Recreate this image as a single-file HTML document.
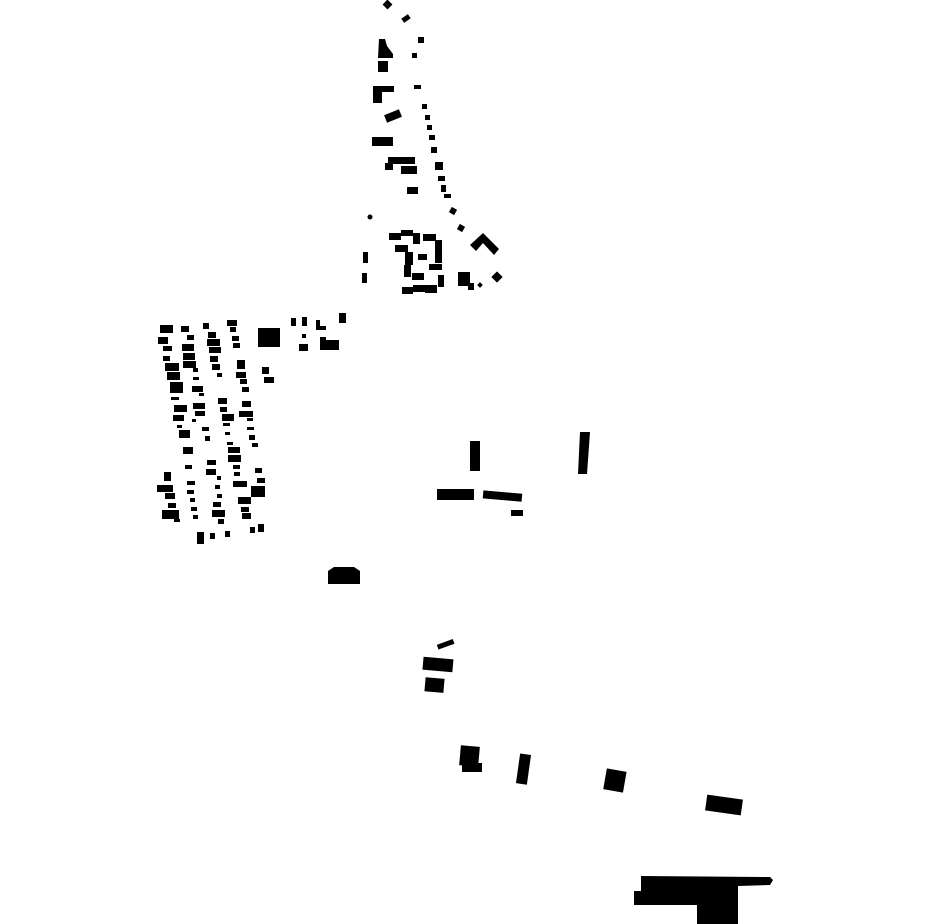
<!DOCTYPE html>
<html><head><style>html,body{margin:0;padding:0;background:#fff;}svg{display:block}</style></head>
<body>
<svg width="930" height="924" viewBox="0 0 930 924" xmlns="http://www.w3.org/2000/svg">
<rect width="930" height="924" fill="#fff"/>
<g fill="#000">
<rect x="384" y="1" width="7" height="7" transform="rotate(45 387.5 4.5)"/>
<rect x="402" y="16" width="8" height="5" transform="rotate(-35 406 18.5)"/>
<rect x="418" y="37" width="6" height="6"/>
<polygon points="379,39 385,39 387,46 390,50 393,54 393,58 378,58"/>
<rect x="412" y="53" width="5" height="5"/>
<rect x="378" y="61" width="10" height="11"/>
<rect x="414" y="85" width="7" height="4"/>
<rect x="373" y="86" width="21" height="6"/><rect x="373" y="86" width="9" height="17"/>
<rect x="422" y="104" width="5" height="5"/>
<rect x="385" y="112" width="16" height="8" transform="rotate(-22 393 116)"/>
<rect x="425" y="115" width="5" height="5"/>
<rect x="427" y="125" width="5" height="5"/>
<rect x="429" y="135" width="6" height="5"/>
<rect x="431" y="147" width="6" height="6"/>
<rect x="372" y="137" width="21" height="9"/>
<rect x="435" y="162" width="8" height="8"/>
<rect x="388" y="157" width="27" height="7"/><rect x="385" y="163" width="8" height="7"/>
<rect x="401" y="166" width="16" height="8"/>
<rect x="438" y="176" width="7" height="5"/>
<rect x="441" y="185" width="5" height="7"/>
<rect x="407" y="187" width="11" height="7"/>
<rect x="444" y="194" width="7" height="4"/>
<rect x="450" y="208" width="6" height="6" transform="rotate(30 453 211)"/>
<circle cx="370" cy="217" r="2.5"/>
<rect x="458" y="225" width="6" height="6" transform="rotate(30 461 228)"/>
<polygon points="470,245 483,233 499,249 494,255 483,243 476,251"/>
<rect x="389" y="233" width="12" height="7"/><rect x="401" y="230" width="12" height="6"/>
<rect x="413" y="233" width="7" height="11"/>
<rect x="423" y="234" width="13" height="7"/>
<rect x="435" y="240" width="7" height="23"/>
<rect x="395" y="245" width="13" height="7"/>
<rect x="405" y="252" width="8" height="13"/>
<rect x="418" y="254" width="9" height="6"/>
<rect x="363" y="252" width="5" height="11"/>
<rect x="404" y="265" width="7" height="12"/>
<rect x="429" y="264" width="13" height="6"/>
<rect x="438" y="275" width="6" height="12"/>
<rect x="412" y="273" width="12" height="7"/>
<rect x="362" y="273" width="5" height="10"/>
<rect x="458" y="272" width="12" height="14"/>
<rect x="468" y="283" width="6" height="7"/>
<rect x="478" y="283" width="4" height="4" transform="rotate(45 480 285)"/>
<rect x="493" y="273" width="8" height="8" transform="rotate(45 497 277)"/>
<rect x="402" y="287" width="11" height="7"/>
<rect x="413" y="285" width="12" height="7"/>
<rect x="425" y="285" width="12" height="8"/>
<rect x="160" y="325" width="13" height="8"/><rect x="181" y="326" width="8" height="6"/>
<rect x="203" y="323" width="6" height="6"/><rect x="227" y="320" width="10" height="6"/>
<rect x="230" y="327" width="6" height="5"/><rect x="158" y="337" width="10" height="7"/>
<rect x="187" y="335" width="7" height="5"/><rect x="208" y="332" width="8" height="6"/>
<rect x="232" y="336" width="7" height="5"/><rect x="163" y="346" width="9" height="5"/>
<rect x="182" y="344" width="12" height="7"/><rect x="207" y="339" width="13" height="7"/>
<rect x="209" y="347" width="12" height="6"/><rect x="233" y="343" width="7" height="5"/>
<rect x="163" y="356" width="7" height="5"/><rect x="183" y="353" width="12" height="7"/>
<rect x="210" y="356" width="8" height="6"/><rect x="165" y="363" width="14" height="8"/>
<rect x="183" y="361" width="13" height="7"/><rect x="193" y="368" width="5" height="4"/>
<rect x="212" y="364" width="8" height="6"/><rect x="237" y="360" width="8" height="9"/>
<rect x="167" y="372" width="13" height="8"/><rect x="193" y="377" width="6" height="3"/>
<rect x="217" y="373" width="5" height="4"/><rect x="236" y="372" width="10" height="6"/>
<rect x="170" y="382" width="13" height="11"/><rect x="192" y="386" width="11" height="6"/>
<rect x="240" y="379" width="7" height="5"/><rect x="242" y="387" width="7" height="5"/>
<rect x="199" y="393" width="5" height="3"/><rect x="171" y="397" width="8" height="3"/>
<rect x="218" y="398" width="9" height="6"/><rect x="242" y="401" width="9" height="6"/>
<rect x="174" y="405" width="13" height="7"/><rect x="193" y="403" width="12" height="6"/>
<rect x="220" y="407" width="7" height="5"/><rect x="195" y="411" width="10" height="5"/>
<rect x="173" y="415" width="11" height="6"/><rect x="222" y="414" width="12" height="7"/>
<rect x="239" y="411" width="14" height="6"/><rect x="192" y="419" width="4" height="3"/>
<rect x="223" y="423" width="7" height="3"/><rect x="247" y="418" width="6" height="3"/>
<rect x="177" y="425" width="5" height="3"/><rect x="202" y="427" width="7" height="4"/>
<rect x="247" y="427" width="7" height="3"/><rect x="179" y="430" width="11" height="8"/>
<rect x="205" y="436" width="5" height="5"/><rect x="225" y="432" width="5" height="3"/>
<rect x="249" y="435" width="6" height="5"/><rect x="227" y="442" width="6" height="3"/>
<rect x="252" y="443" width="6" height="4"/><rect x="183" y="447" width="10" height="7"/>
<rect x="228" y="447" width="12" height="6"/><rect x="228" y="455" width="13" height="7"/>
<rect x="207" y="460" width="9" height="5"/><rect x="185" y="465" width="7" height="4"/>
<rect x="233" y="465" width="7" height="4"/><rect x="206" y="469" width="10" height="6"/>
<rect x="255" y="468" width="7" height="5"/><rect x="164" y="472" width="7" height="9"/>
<rect x="217" y="476" width="4" height="4"/><rect x="234" y="472" width="6" height="4"/>
<rect x="157" y="485" width="16" height="7"/><rect x="187" y="481" width="8" height="4"/>
<rect x="257" y="478" width="8" height="5"/><rect x="233" y="481" width="14" height="6"/>
<rect x="215" y="485" width="5" height="4"/><rect x="165" y="493" width="10" height="6"/>
<rect x="187" y="490" width="7" height="4"/><rect x="251" y="486" width="14" height="11"/>
<rect x="217" y="494" width="5" height="4"/><rect x="238" y="497" width="13" height="7"/>
<rect x="168" y="503" width="8" height="5"/><rect x="190" y="498" width="5" height="4"/>
<rect x="213" y="502" width="8" height="5"/><rect x="162" y="510" width="17" height="9"/>
<rect x="191" y="507" width="6" height="4"/><rect x="241" y="507" width="8" height="5"/>
<rect x="212" y="510" width="13" height="7"/><rect x="242" y="513" width="9" height="6"/>
<rect x="174" y="519" width="6" height="3"/><rect x="193" y="515" width="5" height="4"/>
<rect x="218" y="519" width="6" height="5"/><rect x="197" y="532" width="7" height="12"/>
<rect x="210" y="533" width="5" height="6"/><rect x="225" y="531" width="5" height="6"/>
<rect x="250" y="527" width="5" height="6"/><rect x="258" y="524" width="6" height="8"/>
<rect x="291" y="318" width="5" height="8"/><rect x="302" y="317" width="5" height="9"/>
<rect x="316" y="320" width="4" height="10"/><rect x="316" y="326" width="10" height="4"/>
<rect x="339" y="313" width="7" height="10"/>
<rect x="258" y="328" width="22" height="19"/>
<rect x="302" y="334" width="4" height="4"/><rect x="299" y="344" width="9" height="7"/>
<rect x="320" y="340" width="19" height="10"/><rect x="320" y="337" width="6" height="6"/>
<rect x="262" y="367" width="7" height="7"/><rect x="264" y="377" width="10" height="6"/>
<rect x="470" y="441" width="10" height="30"/>
<polygon points="580,432 590,432 587,474 578,474"/>
<rect x="437" y="489" width="37" height="11"/>
<rect x="483" y="492" width="39" height="8" transform="rotate(5 502 496)"/>
<rect x="511" y="510" width="12" height="6"/>
<polygon points="328,571 334,567 354,567 360,571 360,584 328,584"/>
<rect x="437" y="642" width="17" height="5" transform="rotate(-20 445 644)"/>
<rect x="423" y="658" width="30" height="13" transform="rotate(5 438 664)"/>
<rect x="425" y="678" width="19" height="14" transform="rotate(5 434 685)"/>
<rect x="460" y="746" width="19" height="20" transform="rotate(5 469 756)"/>
<rect x="462" y="763" width="20" height="9"/>
<rect x="518" y="754" width="11" height="30" transform="rotate(8 523 769)"/>
<rect x="605" y="770" width="20" height="21" transform="rotate(10 615 780)"/>
<rect x="706" y="797" width="36" height="16" transform="rotate(8 724 805)"/>
<polygon points="641,876 770,877 773,880 770,885 738,886 738,924 697,924 697,905 634,905 634,891 641,891"/>
</g>
</svg>
</body></html>
